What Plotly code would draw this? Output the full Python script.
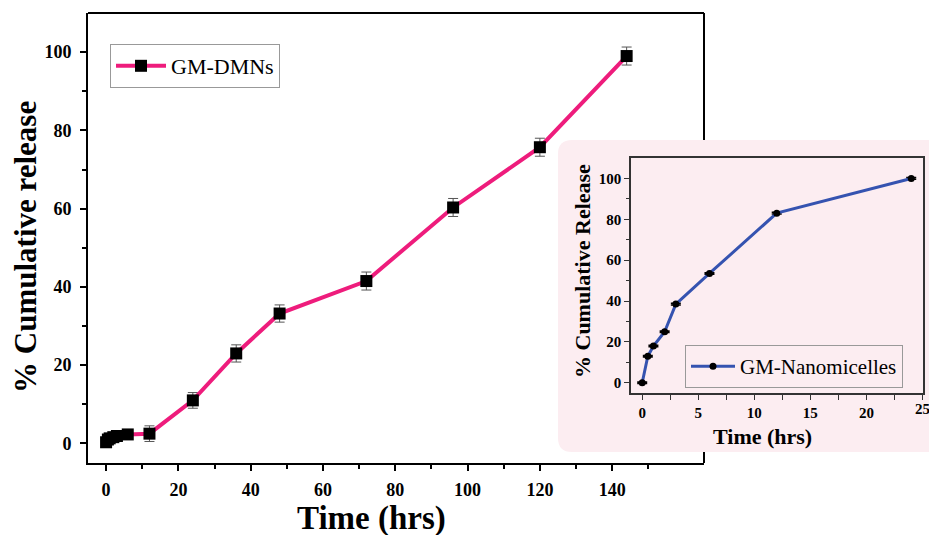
import plotly.graph_objects as go

W, H = 929, 535

# Main series (GM-DMNs)
time_main = [0, 0.5, 1, 2, 3, 6, 12, 24, 36, 48, 72, 96, 120, 144]
release_main = [0.3, 1.0, 1.3, 1.6, 1.9, 2.3, 2.5, 11.0, 23.0, 33.2, 41.5, 60.3, 75.7, 99.0]
err_main = [0.4, 0.4, 0.4, 0.4, 0.4, 0.5, 2.0, 2.0, 2.2, 2.2, 2.3, 2.3, 2.3, 2.3]

# Inset series (GM-Nanomicelles)
time_inset = [0, 0.5, 1, 2, 3, 6, 12, 24]
release_inset = [0, 13, 18, 25, 38.5, 53.5, 83, 100]
err_inset = [0.4] * 8

main_xticks = [0, 20, 40, 60, 80, 100, 120, 140]
main_yticks = [0, 20, 40, 60, 80, 100]
inset_xticks = [0, 5, 10, 15, 20]
inset_edge_tick = 25
inset_yticks = [0, 20, 40, 60, 80, 100]

SERIF = "Liberation Serif"

def px(x):
    return x / W

def py(y):
    return 1 - y / H

fig = go.Figure()

fig.add_trace(go.Scatter(
    x=time_main, y=release_main, mode="lines+markers", name="GM-DMNs",
    line=dict(color="#ee1c7c", width=4),
    marker=dict(symbol="square", size=12, color="black"),
    error_y=dict(type="data", array=err_main, color="#555555", thickness=1, width=5),
    xaxis="x", yaxis="y", legend="legend",
))

fig.add_trace(go.Scatter(
    x=time_inset, y=release_inset, mode="lines+markers", name="GM-Nanomicelles",
    line=dict(color="#3553b0", width=3),
    marker=dict(symbol="circle", size=7, color="black"),
    error_y=dict(type="data", array=err_inset, color="black", thickness=1.5, width=5),
    xaxis="x2", yaxis="y2", legend="legend2",
))

# Main axis pixel frame
mx0, mx1, my0, my1 = 88, 704, 13, 463
# Inset pixel frame
ix0, ix1, iy0, iy1 = 631, 923, 158, 393

tickfont_main = dict(family=SERIF, size=18, color="black", weight="bold")
tickfont_inset = dict(family=SERIF, size=15, color="black", weight="bold")

fig.update_layout(
    width=W, height=H, autosize=False,
    margin=dict(l=0, r=0, t=0, b=0),
    paper_bgcolor="white", plot_bgcolor="rgba(0,0,0,0)",
    xaxis=dict(
        domain=[px(mx0), px(mx1)], range=[-5, 165.4], anchor="y",
        showline=True, linecolor="black", linewidth=2, mirror=False,
        showgrid=False, zeroline=False,
        tickmode="array", tickvals=main_xticks, ticks="outside", ticklen=6, tickwidth=1.5,
        tickcolor="black", tickfont=tickfont_main, ticklabelstandoff=3,
        minor=dict(tickvals=[10, 30, 50, 70, 90, 110, 130, 150], ticks="outside", ticklen=4, tickwidth=1.5, tickcolor="black"),
    ),
    yaxis=dict(
        domain=[py(my1), py(my0)], range=[-5, 110], anchor="x",
        showline=True, linecolor="black", linewidth=2, mirror=False,
        showgrid=False, zeroline=False,
        tickmode="array", tickvals=main_yticks, ticks="outside", ticklen=6, tickwidth=1.5,
        tickcolor="black", tickfont=tickfont_main, ticklabelstandoff=5,
        minor=dict(tickvals=[10, 30, 50, 70, 90], ticks="outside", ticklen=4, tickwidth=1.5, tickcolor="black"),
    ),
    xaxis2=dict(
        domain=[px(ix0), px(ix1)], range=[-1, 25.05], anchor="y2",
        showline=True, linecolor="#333333", linewidth=1.5, mirror=True,
        showgrid=False, zeroline=False,
        tickmode="array", tickvals=inset_xticks, ticks="outside", ticklen=5, tickwidth=1.2,
        tickcolor="#333333", tickfont=tickfont_inset,
        minor=dict(tickvals=[2.5, 7.5, 12.5, 17.5, 22.5, 25], ticks="outside", ticklen=5, tickwidth=1.2, tickcolor="#333333"),
    ),
    yaxis2=dict(
        domain=[py(iy1), py(iy0)], range=[-5, 110], anchor="x2",
        showline=True, linecolor="#333333", linewidth=1.5, mirror=True,
        showgrid=False, zeroline=False,
        tickmode="array", tickvals=inset_yticks, ticks="outside", ticklen=5, tickwidth=1.2,
        tickcolor="#333333", tickfont=tickfont_inset,
        minor=dict(tickvals=[10, 30, 50, 70, 90], ticks="outside", ticklen=3, tickwidth=1.2, tickcolor="#333333"),
    ),
    legend=dict(
        x=px(110), y=py(44), xanchor="left", yanchor="top",
        bgcolor="white", bordercolor="#999999", borderwidth=1, itemwidth=50,
        font=dict(family=SERIF, size=22, color="black"),
    ),
    legend2=dict(
        x=px(685), y=py(345), xanchor="left", yanchor="top",
        bgcolor="rgba(0,0,0,0)", bordercolor="#999999", borderwidth=1, itemwidth=44,
        font=dict(family=SERIF, size=21, color="black"),
    ),
    showlegend=True,
)

# Rounded pink inset panel
rx0, rx1, ry0, ry1, r = 558, 945, 140, 452, 14
path = (
    f"M {px(rx0 + r)},{py(ry0)} L {px(rx1 - r)},{py(ry0)} "
    f"Q {px(rx1)},{py(ry0)} {px(rx1)},{py(ry0 + r)} "
    f"L {px(rx1)},{py(ry1 - r)} Q {px(rx1)},{py(ry1)} {px(rx1 - r)},{py(ry1)} "
    f"L {px(rx0 + r)},{py(ry1)} Q {px(rx0)},{py(ry1)} {px(rx0)},{py(ry1 - r)} "
    f"L {px(rx0)},{py(ry0 + r)} Q {px(rx0)},{py(ry0)} {px(rx0 + r)},{py(ry0)} Z"
)

fig.add_shape(type="line", xref="paper", yref="paper", x0=px(mx0), x1=px(mx1), y0=py(my0), y1=py(my0),
              line=dict(color="black", width=2), layer="below")
fig.add_shape(type="line", xref="paper", yref="paper", x0=px(mx1), x1=px(mx1), y0=py(my0), y1=py(my1),
              line=dict(color="black", width=2), layer="below")
fig.add_shape(type="path", xref="paper", yref="paper", path=path,
              fillcolor="#fcedf1", line=dict(width=0), layer="below")

# Edge tick label of the inset x axis (sits at the figure's right border)
fig.add_annotation(text=f"<b>{inset_edge_tick}</b>", xref="x2", yref="paper", x=inset_edge_tick, y=py(409),
                   showarrow=False, xanchor="center", yanchor="middle",
                   font=dict(family=SERIF, size=15, color="black"))

# Axis titles
ann = dict(xref="paper", yref="paper", showarrow=False, xanchor="center", yanchor="middle")
fig.add_annotation(text="<b>Time (hrs)</b>", x=px(371), y=py(518),
                   font=dict(family=SERIF, size=33, color="black"), **ann)
fig.add_annotation(text="<b>% Cumulative release</b>", x=px(25), y=py(247), textangle=-90,
                   font=dict(family=SERIF, size=31, color="black"), **ann)
fig.add_annotation(text="<b>Time (hrs)</b>", x=px(762), y=py(436),
                   font=dict(family=SERIF, size=22, color="black"), **ann)
fig.add_annotation(text="<b>% Cumulative Release</b>", x=px(582), y=py(271), textangle=-90,
                   font=dict(family=SERIF, size=22, color="black"), **ann)

fig.write_html("out.html")
